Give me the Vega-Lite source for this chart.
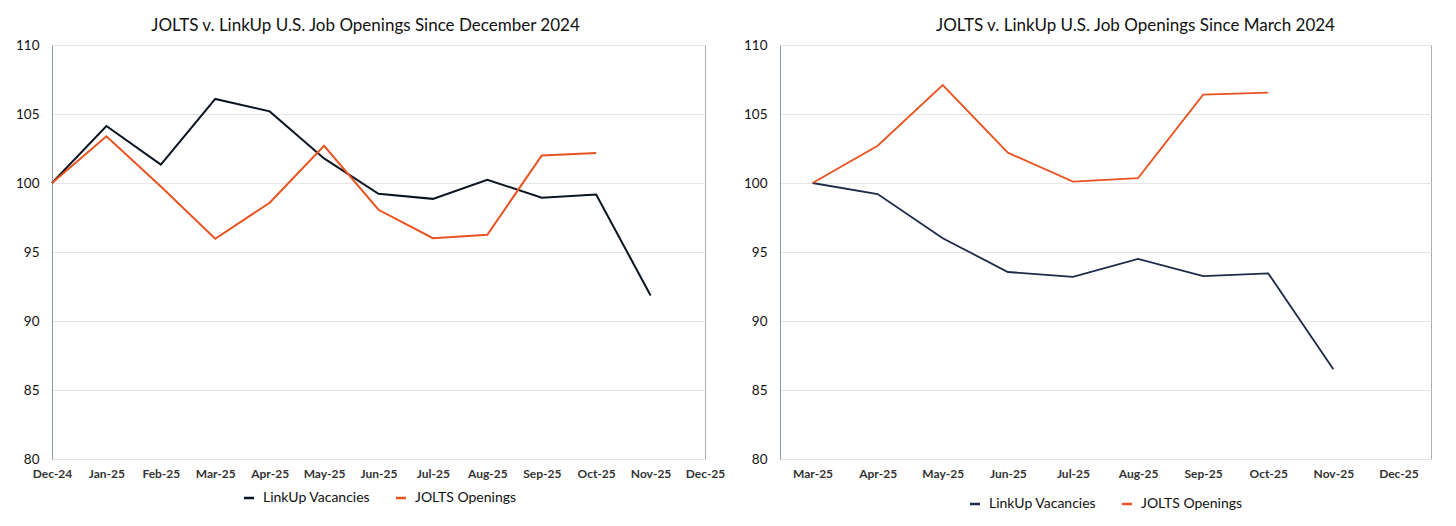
{
  "$schema": "https://vega.github.io/schema/vega-lite/v6.json",
  "background": "white",
  "padding": {"left": 15, "top": 16, "right": 10, "bottom": 10},
  "datasets": {
    "left": [
      {"month": "Dec-24", "series": "LinkUp Vacancies", "value": 100},
      {"month": "Jan-25", "series": "LinkUp Vacancies", "value": 104.13},
      {"month": "Feb-25", "series": "LinkUp Vacancies", "value": 101.33},
      {"month": "Mar-25", "series": "LinkUp Vacancies", "value": 106.09},
      {"month": "Apr-25", "series": "LinkUp Vacancies", "value": 105.19},
      {"month": "May-25", "series": "LinkUp Vacancies", "value": 101.78},
      {"month": "Jun-25", "series": "LinkUp Vacancies", "value": 99.22},
      {"month": "Jul-25", "series": "LinkUp Vacancies", "value": 98.85},
      {"month": "Aug-25", "series": "LinkUp Vacancies", "value": 100.24},
      {"month": "Sep-25", "series": "LinkUp Vacancies", "value": 98.93},
      {"month": "Oct-25", "series": "LinkUp Vacancies", "value": 99.17},
      {"month": "Nov-25", "series": "LinkUp Vacancies", "value": 91.85},
      {"month": "Dec-24", "series": "JOLTS Openings", "value": 100},
      {"month": "Jan-25", "series": "JOLTS Openings", "value": 103.38},
      {"month": "Feb-25", "series": "JOLTS Openings", "value": 99.75},
      {"month": "Mar-25", "series": "JOLTS Openings", "value": 95.96},
      {"month": "Apr-25", "series": "JOLTS Openings", "value": 98.57},
      {"month": "May-25", "series": "JOLTS Openings", "value": 102.7},
      {"month": "Jun-25", "series": "JOLTS Openings", "value": 98.06},
      {"month": "Jul-25", "series": "JOLTS Openings", "value": 96.0},
      {"month": "Aug-25", "series": "JOLTS Openings", "value": 96.25},
      {"month": "Sep-25", "series": "JOLTS Openings", "value": 102.0},
      {"month": "Oct-25", "series": "JOLTS Openings", "value": 102.17}
    ],
    "right": [
      {"month": "Mar-25", "series": "LinkUp Vacancies", "value": 100},
      {"month": "Apr-25", "series": "LinkUp Vacancies", "value": 99.2},
      {"month": "May-25", "series": "LinkUp Vacancies", "value": 96.0},
      {"month": "Jun-25", "series": "LinkUp Vacancies", "value": 93.55},
      {"month": "Jul-25", "series": "LinkUp Vacancies", "value": 93.2},
      {"month": "Aug-25", "series": "LinkUp Vacancies", "value": 94.5},
      {"month": "Sep-25", "series": "LinkUp Vacancies", "value": 93.25},
      {"month": "Oct-25", "series": "LinkUp Vacancies", "value": 93.45},
      {"month": "Nov-25", "series": "LinkUp Vacancies", "value": 86.5},
      {"month": "Mar-25", "series": "JOLTS Openings", "value": 100},
      {"month": "Apr-25", "series": "JOLTS Openings", "value": 102.7},
      {"month": "May-25", "series": "JOLTS Openings", "value": 107.1},
      {"month": "Jun-25", "series": "JOLTS Openings", "value": 102.2},
      {"month": "Jul-25", "series": "JOLTS Openings", "value": 100.1},
      {"month": "Aug-25", "series": "JOLTS Openings", "value": 100.36},
      {"month": "Sep-25", "series": "JOLTS Openings", "value": 106.4},
      {"month": "Oct-25", "series": "JOLTS Openings", "value": 106.55}
    ]
  },
  "hconcat": [
    {
      "width": 653,
      "height": 414,
      "title": {"text": "JOLTS v. LinkUp U.S. Job Openings Since December 2024", "dx": -13},
      "data": {"name": "left"},
      "mark": {"type": "line", "strokeWidth": 2},
      "encoding": {
        "x": {
          "field": "month", "type": "ordinal", "sort": null,
          "scale": {"type": "point", "padding": 0, "domain": ["Dec-24","Jan-25","Feb-25","Mar-25","Apr-25","May-25","Jun-25","Jul-25","Aug-25","Sep-25","Oct-25","Nov-25","Dec-25"]},
          "axis": {"title": null}
        },
        "y": {
          "field": "value", "type": "quantitative",
          "scale": {"domain": [80, 110], "nice": false, "zero": false},
          "axis": {"title": null, "values": [80, 85, 90, 95, 100, 105, 110]}
        },
        "color": {
          "field": "series", "type": "nominal",
          "scale": {"domain": ["LinkUp Vacancies", "JOLTS Openings"], "range": ["#0b1422", "#e9531f"]},
          "legend": {"title": null, "orient": "none", "direction": "horizontal", "legendX": 190, "legendY": 446}
        }
      }
    },
    {
      "width": 651,
      "height": 414,
      "title": {"text": "JOLTS v. LinkUp U.S. Job Openings Since March 2024", "dx": 30},
      "data": {"name": "right"},
      "mark": {"type": "line", "strokeWidth": 1.8},
      "encoding": {
        "x": {
          "field": "month", "type": "ordinal", "sort": null,
          "scale": {"type": "point", "padding": 0.5, "domain": ["Mar-25","Apr-25","May-25","Jun-25","Jul-25","Aug-25","Sep-25","Oct-25","Nov-25","Dec-25"]},
          "axis": {"title": null}
        },
        "y": {
          "field": "value", "type": "quantitative",
          "scale": {"domain": [80, 110], "nice": false, "zero": false},
          "axis": {"title": null, "values": [80, 85, 90, 95, 100, 105, 110]}
        },
        "color": {
          "field": "series", "type": "nominal",
          "scale": {"domain": ["LinkUp Vacancies", "JOLTS Openings"], "range": ["#1c2b4a", "#e9531f"]},
          "legend": {"title": null, "orient": "none", "direction": "horizontal", "legendX": 188, "legendY": 452}
        }
      }
    }
  ],
  "spacing": 75,
  "bounds": "flush",
  "resolve": {"scale": {"color": "independent", "x": "independent", "y": "independent"}},
  "config": {
    "font": "Lato",
    "view": {"stroke": "#a9aeb6", "strokeWidth": 1},
    "title": {"fontSize": 17, "fontWeight": "normal", "color": "#111", "anchor": "middle", "offset": 3},
    "axisX": {"domain": false, "ticks": false, "grid": false, "labelAngle": 0, "labelFontSize": 12, "labelFontWeight": "bold", "labelColor": "#333", "labelPadding": 9},
    "axisY": {"domain": true, "domainColor": "#8a9ab2", "ticks": false, "grid": true, "gridColor": "#e6e6e6", "labelFontSize": 13.5, "labelColor": "#111", "labelPadding": 13},
    "legend": {"symbolType": "stroke", "symbolSize": 100, "symbolStrokeWidth": 2.5, "labelFontSize": 14, "labelColor": "#111", "columnPadding": 20, "labelOffset": 7}
  }
}
